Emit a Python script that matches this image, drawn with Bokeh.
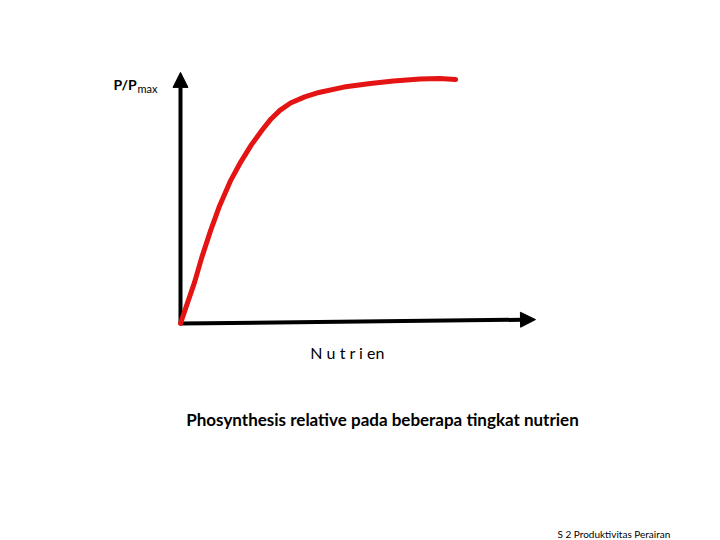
from bokeh.plotting import figure
from bokeh.models import Arrow, NormalHead, Label, Range1d
from bokeh.embed import file_html
from bokeh.resources import INLINE

# Nutrient (arbitrary units) vs relative photosynthesis P/Pmax
nutrient = [0.0, 0.2, 0.4, 0.6, 0.85, 1.1, 1.4, 1.7, 2.0, 2.3, 2.55, 2.8, 3.1, 3.5, 3.9, 4.6, 5.35, 6.0, 6.75, 7.3, 7.75]
p_rel = [0.0, 0.085, 0.17, 0.27, 0.38, 0.48, 0.58, 0.66, 0.73, 0.79, 0.835, 0.87, 0.9, 0.925, 0.943, 0.965, 0.98, 0.99, 0.998, 1.0, 0.996]

x_axis_end = 10.0
x_axis_rise = 0.016
y_axis_end = 1.025

title_text = "Phosynthesis relative pada beberapa tingkat nutrien"
xlabel_text = "N u t r i en"
ylabel_main = "P/P"
ylabel_sub = "max"
footer_text = "S 2 Produktivitas Perairan"

FONT = "Lato"
W, H = 720, 540

p = figure(width=W, height=H,
           x_range=Range1d(-5.070, 15.211), y_range=Range1d(-0.8857, 1.3184),
           output_backend="svg", toolbar_location=None, min_border=0)
p.xaxis.visible = False
p.yaxis.visible = False
p.grid.visible = False
p.outline_line_color = None
p.background_fill_color = "white"

# axes arrows
xa = Arrow(end=NormalHead(size=15, fill_color="black", line_color="black"),
           x_start=0, y_start=0, x_end=x_axis_end, y_end=x_axis_rise,
           line_width=4, line_color="black", level="underlay")
ya = Arrow(end=NormalHead(size=15, fill_color="black", line_color="black"),
           x_start=0, y_start=0, x_end=0, y_end=y_axis_end,
           line_width=4, line_color="black", level="underlay")
p.add_layout(xa)
p.add_layout(ya)

p.line(nutrient, p_rel, line_color="#e41414", line_width=5, line_cap="round", line_join="round")

def sx(px):
    return px

def sy(py):
    return H - py

p.add_layout(Label(x=sx(113), y=sy(84), x_units="screen", y_units="screen", text=ylabel_main,
                   text_font=FONT, text_font_style="bold", text_font_size="14px",
                   text_baseline="middle", text_align="left", text_color="black"))
p.add_layout(Label(x=sx(137), y=sy(88), x_units="screen", y_units="screen", text=ylabel_sub,
                   text_font=FONT, text_font_size="11px",
                   text_baseline="middle", text_align="left", text_color="black"))
p.add_layout(Label(x=sx(347), y=sy(352), x_units="screen", y_units="screen", text=xlabel_text,
                   text_font=FONT, text_font_size="16px",
                   text_baseline="middle", text_align="center", text_color="black"))
p.add_layout(Label(x=sx(382), y=sy(419), x_units="screen", y_units="screen", text=title_text,
                   text_font=FONT, text_font_style="bold", text_font_size="17px",
                   text_baseline="middle", text_align="center", text_color="black"))
p.add_layout(Label(x=sx(557), y=sy(533), x_units="screen", y_units="screen", text=footer_text,
                   text_font=FONT, text_font_size="10px",
                   text_baseline="middle", text_align="left", text_color="black"))

open("out.html", "w").write(file_html(p, INLINE))
